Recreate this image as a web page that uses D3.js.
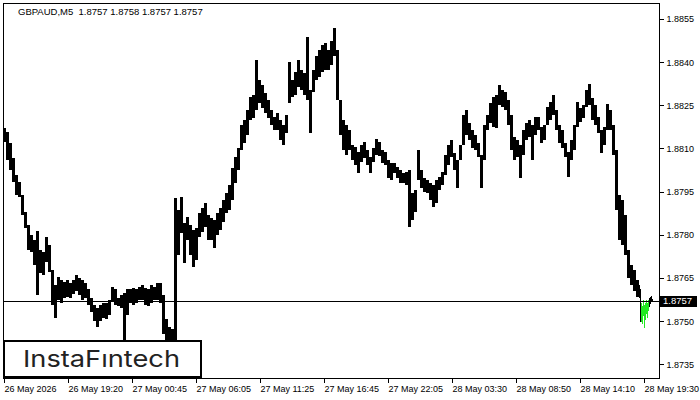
<!DOCTYPE html>
<html><head><meta charset="utf-8">
<script src="https://cdn.jsdelivr.net/npm/d3@7"></script>
<style>body{margin:0;background:#fff;} svg{display:block;} .title{white-space:pre;}</style>
</head><body>
<script>
const symbol = "GBPAUD,M5";
const quote = [1.8757, 1.8758, 1.8757, 1.8757];
const lastPrice = 1.8757;
const priceTicks = [1.8735, 1.8750, 1.8765, 1.8780, 1.8795, 1.8810, 1.8825, 1.8840, 1.8855];
const timeTickIndex = [0, 64, 128, 192, 256, 320, 384, 448, 512, 576, 640];
const timeLabels = ["26 May 2026","26 May 19:20","27 May 00:45","27 May 06:05","27 May 11:25","27 May 16:45","27 May 22:05","28 May 03:30","28 May 08:50","28 May 14:10","28 May 19:30"];
const groupSize = 3; // each entry = high/low of 3 consecutive M5 bars
const groupHigh = [
1.88171,1.88157,1.88119,1.88067,1.88008,1.87984,1.87939,1.87880,1.87835,1.87800,
1.87783,1.87814,1.87748,1.87741,1.87793,1.87765,1.87679,1.87627,1.87654,1.87644,
1.87637,1.87644,1.87634,1.87644,1.87661,1.87651,1.87644,1.87634,1.87610,1.87582,
1.87557,1.87547,1.87557,1.87564,1.87564,1.87575,1.87620,1.87610,1.87582,1.87592,
1.87599,1.87610,1.87610,1.87616,1.87610,1.87620,1.87627,1.87616,1.87610,1.87627,
1.87620,1.87634,1.87634,1.87592,1.87506,1.87481,1.87471,1.87928,1.87887,1.87932,
1.87842,1.87862,1.87835,1.87817,1.87824,1.87876,1.87893,1.87911,1.87869,1.87859,
1.87852,1.87876,1.87893,1.87921,1.87945,1.87973,1.88032,1.88070,1.88101,1.88181,
1.88198,1.88233,1.88278,1.88285,1.88406,1.88337,1.88320,1.88292,1.88268,1.88233,
1.88209,1.88223,1.88198,1.88181,1.88216,1.88399,1.88337,1.88365,1.88406,1.88372,
1.88361,1.88486,1.88302,1.88372,1.88423,1.88441,1.88458,1.88465,1.88441,1.88475,
1.88520,1.88441,1.88268,1.88198,1.88181,1.88164,1.88112,1.88105,1.88087,1.88112,
1.88122,1.88094,1.88070,1.88101,1.88133,1.88122,1.88094,1.88087,1.88060,1.88050,
1.88050,1.88036,1.88025,1.88015,1.88018,1.88025,1.87945,1.87956,1.88094,1.88025,
1.87998,1.87991,1.87980,1.87973,1.87991,1.88001,1.88018,1.88077,1.88112,1.88129,
1.88084,1.88060,1.88112,1.88216,1.88233,1.88188,1.88164,1.88146,1.88119,1.88077,
1.88181,1.88216,1.88257,1.88278,1.88285,1.88320,1.88302,1.88295,1.88268,1.88216,
1.88139,1.88129,1.88112,1.88164,1.88188,1.88198,1.88181,1.88209,1.88209,1.88174,
1.88181,1.88243,1.88261,1.88285,1.88233,1.88181,1.88164,1.88119,1.88087,1.88129,
1.88181,1.88261,1.88240,1.88250,1.88302,1.88323,1.88274,1.88250,1.88209,1.88164,
1.88174,1.88254,1.88233,1.88181,1.88094,1.87939,1.87921,1.87869,1.87748,1.87696,
1.87679,1.87644];
const groupLow = [
1.88122,1.88060,1.88025,1.87984,1.87939,1.87932,1.87869,1.87824,1.87748,1.87741,
1.87696,1.87592,1.87668,1.87661,1.87706,1.87672,1.87557,1.87512,1.87575,1.87564,
1.87582,1.87585,1.87582,1.87596,1.87603,1.87592,1.87575,1.87582,1.87557,1.87533,
1.87499,1.87481,1.87499,1.87512,1.87506,1.87523,1.87568,1.87557,1.87551,1.87547,
1.87419,1.87523,1.87564,1.87557,1.87564,1.87575,1.87575,1.87557,1.87551,1.87564,
1.87575,1.87575,1.87564,1.87454,1.87419,1.87419,1.87419,1.87280,1.87731,1.87807,
1.87703,1.87783,1.87731,1.87689,1.87713,1.87793,1.87810,1.87828,1.87783,1.87783,
1.87755,1.87800,1.87817,1.87845,1.87876,1.87887,1.87921,1.87980,1.88025,1.88094,
1.88119,1.88146,1.88198,1.88205,1.88233,1.88257,1.88240,1.88223,1.88205,1.88181,
1.88164,1.88164,1.88129,1.88112,1.88153,1.88257,1.88278,1.88285,1.88313,1.88302,
1.88285,1.88268,1.88153,1.88295,1.88337,1.88347,1.88365,1.88372,1.88372,1.88389,
1.88423,1.88268,1.88146,1.88094,1.88077,1.88094,1.88060,1.88043,1.88015,1.88053,
1.88067,1.88043,1.88015,1.88053,1.88077,1.88074,1.88050,1.88043,1.87998,1.87991,
1.88015,1.87998,1.87980,1.87980,1.87973,1.87828,1.87852,1.87880,1.87991,1.87963,
1.87949,1.87945,1.87921,1.87897,1.87911,1.87956,1.87973,1.88008,1.88043,1.88070,
1.88025,1.87963,1.88060,1.88112,1.88146,1.88129,1.88101,1.88094,1.88070,1.87963,
1.88060,1.88164,1.88188,1.88174,1.88171,1.88250,1.88243,1.88233,1.88181,1.88094,
1.88060,1.88070,1.87998,1.88077,1.88129,1.88139,1.88060,1.88146,1.88164,1.88119,
1.88129,1.88181,1.88198,1.88216,1.88164,1.88119,1.88101,1.88070,1.88001,1.88060,
1.88094,1.88174,1.88191,1.88205,1.88243,1.88250,1.88198,1.88181,1.88153,1.88084,
1.88112,1.88164,1.88164,1.88077,1.87887,1.87783,1.87765,1.87731,1.87651,1.87627,
1.87603,1.87585];
const tailStart = 636; // individual bars from this index
const tailHigh = [1.87627,1.87610,1.87564,1.87554,1.87575,1.87557,1.87564,1.87575,1.87564,1.87575,1.87582,1.87585,1.87589,1.87578];
const tailLow  = [1.87585,1.87499,1.87499,1.87495,1.87523,1.87481,1.87506,1.87530,1.87516,1.87540,1.87554,1.87564,1.87571,1.87571];
const tailPattern = [0,0,1,1,1,1,1,1,1,1,0,0,0,0];

const W = 700, H = 400;
const L = 3, T = 3, R = 659, B = 378;
const FONT = "'Liberation Sans', Arial, sans-serif";
const svg = d3.select("body").append("svg").attr("width", W).attr("height", H)
  .style("font-family", FONT);

const x = d3.scaleLinear().domain([0, 640]).range([L, L + 640]);
const y = d3.scaleLinear().domain([1.8735, 1.8855]).range([364.3, 19]);

svg.append("defs").append("clipPath").attr("id", "plot")
  .append("rect").attr("x", L + 0.5).attr("y", T + 0.5).attr("width", R - L).attr("height", B - T);

const g = svg.append("g").attr("clip-path", "url(#plot)").attr("shape-rendering", "crispEdges");

g.selectAll("rect.grp").data(groupHigh).join("rect").attr("class", "grp")
  .attr("x", (d, i) => x(i * groupSize))
  .attr("width", (d, i) => x((i + 1) * groupSize) - x(i * groupSize))
  .attr("y", d => Math.round(y(d)))
  .attr("height", (d, i) => Math.max(1, Math.round(y(groupLow[i])) - Math.round(y(d))))
  .attr("fill", "#000");

g.selectAll("line.tail").data(tailHigh).join("line").attr("class", "tail")
  .attr("x1", (d, i) => x(tailStart + i) + 0.5).attr("x2", (d, i) => x(tailStart + i) + 0.5)
  .attr("y1", d => Math.round(y(d))).attr("y2", (d, i) => Math.round(y(tailLow[i])) + 1)
  .attr("stroke", (d, i) => tailPattern[i] ? "#22e822" : "#000").attr("stroke-width", 1);

// current price line
g.append("line").attr("x1", L).attr("x2", R).attr("y1", Math.round(y(lastPrice)) + 0.5).attr("y2", Math.round(y(lastPrice)) + 0.5)
  .attr("stroke", "#000").attr("stroke-width", 1);

// frame
svg.append("rect").attr("x", L + 0.5).attr("y", T + 0.5).attr("width", R - L).attr("height", B - T)
  .attr("fill", "none").attr("stroke", "#000").attr("stroke-width", 1).attr("shape-rendering", "crispEdges");

// right price axis
const ya = svg.append("g").attr("transform", `translate(${R + 0.5},0)`)
  .call(d3.axisRight(y).tickValues(priceTicks).tickSize(4).tickPadding(3).tickFormat(d3.format(".4f")));
ya.select(".domain").remove();
ya.selectAll("line").attr("stroke", "#000").attr("shape-rendering", "crispEdges");
ya.selectAll("text").attr("font-size", 9).attr("font-family", FONT).attr("fill", "#000");

// bottom time axis
const xa = svg.append("g").attr("transform", `translate(0.5,${B + 0.5})`)
  .call(d3.axisBottom(x).tickValues(timeTickIndex).tickSize(4).tickPadding(3).tickFormat((d, i) => timeLabels[i]));
xa.select(".domain").remove();
xa.selectAll("line").attr("stroke", "#000").attr("shape-rendering", "crispEdges");
xa.selectAll("text").attr("text-anchor", "start").attr("dx", 0.5).attr("font-size", 9)
  .attr("font-family", FONT).attr("fill", "#000");

// last price tag
const ly = y(lastPrice);
svg.append("rect").attr("x", R + 1).attr("y", Math.round(ly) - 5).attr("width", 37).attr("height", 11).attr("fill", "#000");
svg.append("text").attr("x", R + 4).attr("y", ly + 3.5).attr("fill", "#fff").attr("font-size", 9.5)
  .text(d3.format(".4f")(lastPrice));

// title
svg.append("text").attr("class", "title").attr("x", 18).attr("y", 15).attr("font-size", 9.5).attr("fill", "#000")
  .text(symbol + "\u00a0\u00a0" + quote.map(d3.format(".4f")).join(" "));

// logo
svg.append("rect").attr("x", 4).attr("y", 341).attr("width", 197).attr("height", 36)
  .attr("fill", "#fff").attr("stroke", "#000").attr("stroke-width", 2);
svg.append("text").attr("x", 23).attr("y", 367).attr("font-size", 23).attr("font-family", "Inter, 'Noto Sans', sans-serif")
  .attr("font-weight", 400).attr("fill", "#222").attr("textLength", 157).attr("lengthAdjust", "spacingAndGlyphs")
  .text("InstaFıntech");
</script>
</body></html>
